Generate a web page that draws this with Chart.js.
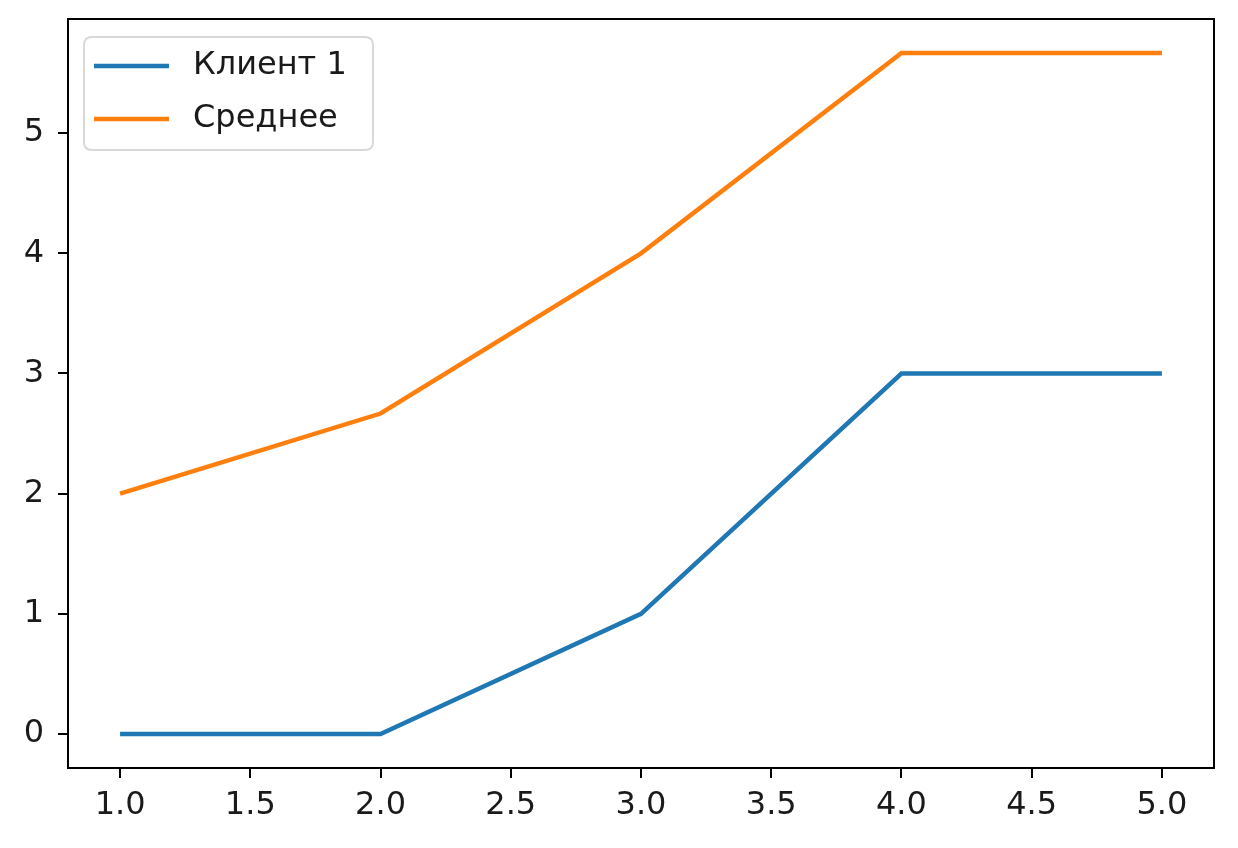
<!DOCTYPE html>
<html><head><meta charset="utf-8">
<script src="https://cdn.jsdelivr.net/npm/chart.js@4/dist/chart.umd.min.js"></script>
<style>html,body{margin:0;padding:0;background:#fff}#wrap{width:1238px;height:848px}</style>
</head><body><div id="wrap"><canvas id="c" width="1238" height="848"></canvas></div>
<script>
const xValues = [1, 2, 3, 4, 5];
const client1 = [0, 0, 1, 3, 3];
const average = [2, 8/3, 4, 17/3, 17/3];
const seriesNames = ['Клиент 1', 'Среднее'];
const xTicks = [1.0, 1.5, 2.0, 2.5, 3.0, 3.5, 4.0, 4.5, 5.0];
const yTicks = [0, 1, 2, 3, 4, 5];

const FONT = "'DejaVu Sans', sans-serif";
const frame = {
  id: 'frame',
  afterDraw(chart) {
    const a = chart.chartArea, ctx = chart.ctx;
    ctx.save();
    ctx.strokeStyle = '#000'; ctx.lineWidth = 2;
    ctx.strokeRect(a.left, a.top, a.right - a.left, a.bottom - a.top);
    // legend
    const x0 = a.left + 16, y0 = a.top + 18, w = 289, h = 113, r = 8;
    ctx.beginPath();
    ctx.moveTo(x0 + r, y0); ctx.lineTo(x0 + w - r, y0); ctx.quadraticCurveTo(x0 + w, y0, x0 + w, y0 + r);
    ctx.lineTo(x0 + w, y0 + h - r); ctx.quadraticCurveTo(x0 + w, y0 + h, x0 + w - r, y0 + h);
    ctx.lineTo(x0 + r, y0 + h); ctx.quadraticCurveTo(x0, y0 + h, x0, y0 + h - r);
    ctx.lineTo(x0, y0 + r); ctx.quadraticCurveTo(x0, y0, x0 + r, y0); ctx.closePath();
    ctx.fillStyle = 'rgba(255,255,255,0.8)'; ctx.fill();
    ctx.strokeStyle = '#d9d9d9'; ctx.lineWidth = 2; ctx.stroke();
    chart.data.datasets.forEach((ds, i) => {
      const yy = y0 + 29 + i * 53;
      ctx.strokeStyle = ds.borderColor; ctx.lineWidth = 4.5; ctx.lineCap = 'butt';
      ctx.beginPath(); ctx.moveTo(x0 + 10, yy); ctx.lineTo(x0 + 85, yy); ctx.stroke();
      ctx.fillStyle = '#1a1a1a'; ctx.font = '32px ' + FONT; ctx.textBaseline = 'middle'; ctx.textAlign = 'left';
      ctx.fillText(ds.label, x0 + 109, yy);
    });
    ctx.restore();
  }
};

new Chart(document.getElementById('c'), {
  type: 'line',
  data: {
    datasets: [
      { label: seriesNames[0], data: xValues.map((x, i) => ({ x, y: client1[i] })), borderColor: '#1f77b4', borderWidth: 4.5, pointRadius: 0, fill: false, tension: 0 },
      { label: seriesNames[1], data: xValues.map((x, i) => ({ x, y: average[i] })), borderColor: '#ff7f0e', borderWidth: 4.5, pointRadius: 0, fill: false, tension: 0 }
    ]
  },
  options: {
    responsive: false, animation: false, devicePixelRatio: 1,
    layout: { padding: { left: 0, top: 19, right: 24, bottom: 0 } },
    plugins: { legend: { display: false }, tooltip: { enabled: false } },
    scales: {
      x: {
        type: 'linear', min: 0.8, max: 5.2,
        afterBuildTicks: s => { s.ticks = xTicks.map(v => ({ value: v })); },
        afterFit: s => { s.height = 80; s.paddingLeft = 0; s.paddingRight = 0; },
        grid: { drawOnChartArea: false, drawTicks: true, tickLength: 10, color: '#000', lineWidth: 2 },
        border: { display: true, color: '#000', width: 2 },
        ticks: { color: '#1a1a1a', font: { family: FONT, size: 32 }, padding: 8, maxRotation: 0, callback: v => Number(v).toFixed(1) }
      },
      y: {
        type: 'linear', min: -0.2833, max: 5.95,
        afterBuildTicks: s => { s.ticks = yTicks.map(v => ({ value: v })); },
        afterFit: s => { s.width = 68; s.paddingTop = 0; s.paddingBottom = 0; },
        grid: { drawOnChartArea: false, drawTicks: true, tickLength: 10, color: '#000', lineWidth: 2 },
        border: { display: true, color: '#000', width: 2 },
        ticks: { color: '#1a1a1a', font: { family: FONT, size: 32 }, padding: 14, callback: v => String(v) }
      }
    }
  },
  plugins: [frame]
});
</script></body></html>
